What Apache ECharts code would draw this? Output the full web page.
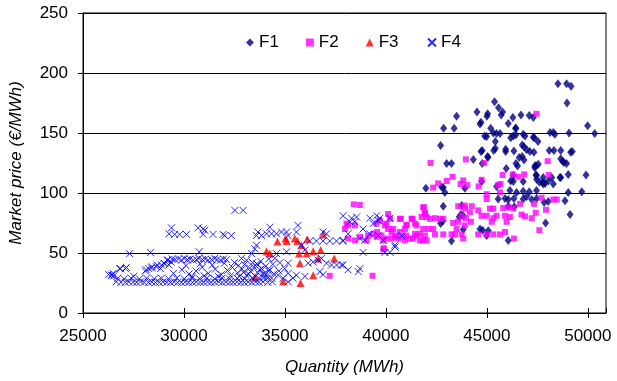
<!DOCTYPE html>
<html>
<head>
<meta charset="utf-8">
<script src="https://cdn.jsdelivr.net/npm/echarts@6/dist/echarts.min.js"></script>
<style>
html,body{margin:0;padding:0;background:#fff;}
#chart{width:617px;height:381px;}
</style>
</head>
<body>
<div id="chart"></div>
<script>
var seriesNames = ['F1', 'F2', 'F3', 'F4'];
var xTicks = [25000, 30000, 35000, 40000, 45000, 50000];
var yTicks = [0, 50, 100, 150, 200, 250];

var f1Data = [
[48520,191],[48950,191],[49170,189],[48970,175],[45380,176],[45580,171],[45780,167.5],[45710,165],[44510,167.5],[43500,164],
[45040,166],[45000,164],[46290,163],[46690,165],[47100,164.5],[47300,163],[44710,159],[44660,157.5],[46060,158],[46420,154],
[42860,154],[43380,154],[45190,154],[46440,154],[49990,156],[50340,149.5],[49070,150],[48130,150.5],[48290,150.5],[48370,149],
[45320,150],[45480,149.5],[45650,149.5],[44890,147.5],[44990,147],[46180,146],[46310,147.5],[46440,148.5],[46800,149],[46890,147.5],
[47350,146],[47530,143],[45420,143],[42710,139.5],[46750,140],[46840,138.5],[44770,135.5],[44710,134.5],[45340,135.5],[45420,137],
[45930,134.5],[45930,136.5],[46340,135],[46970,136],[47130,134.5],[47330,134],[48090,135.5],[48320,135.5],[48660,135.5],[49230,134.5],
[49150,134],[44330,128],[45050,129.5],[46750,130.5],[46600,129.5],[46840,127.5],[48660,128.5],[48750,126.5],[48820,125.5],[48950,124.5],
[43010,124.5],[43250,124.5],[44770,124.5],[47430,123],[47370,121],[46440,124.5],[46520,122.5],[45960,120.5],[47430,115],[47460,111.5],
[47600,109],[47760,109],[47880,108],[48290,107.5],[48660,113],[49030,115.5],[49910,115],[46180,110],[46310,109.5],[46800,109.5],
[41980,104],[42760,105],[42920,100.5],[43910,104],[45480,105.5],[46140,102],[46470,100.5],[46800,101.5],[47100,101],[47460,102],
[49030,100.5],[49700,101],[45560,95],[45900,95.5],[46060,94.5],[46340,95.5],[46800,95],[46970,97],[47220,94.5],[47460,95.5],
[47840,92],[48040,93],[48870,93.5],[42840,89],[43750,89.5],[46060,89],[46360,88.5],[49120,82],[43720,82],[43630,80],
[42810,76.5],[42710,74.5],[47910,75],[44660,70],[44790,69],[43250,60],[46060,60.5],[44990,64.5],[43830,69.5],[42840,104.5],
[43830,81],[45070,68.5],[44740,109.5],[45040,130.5],[47380,122.5],[47550,124],[47460,114.5],[47790,113],[48210,113],[48620,113],
[48040,110],[47790,107.5],[46310,114.5],[47300,146.5]
];

var f2Data = [
[47460,166],[42210,125],[43960,128],[44870,125],[48010,126.5],[48060,115],[43300,113.5],[43010,110],[42590,108],[42340,104.5],
[43830,110.5],[43700,107.5],[44030,106.5],[44740,111],[44590,105.5],[45780,115],[46280,115.5],[46560,113.5],[46850,115.5],[45680,107.5],
[45560,106.5],[44990,99],[44990,95],[45650,100.5],[47710,96],[48290,94.5],[48460,94.5],[46640,91],[47330,91],[41880,88],
[41930,83.5],[42020,80],[42180,78.5],[42430,79],[42680,78.5],[42840,78.5],[43580,89],[43910,89.5],[44250,89],[43910,87],
[44160,84],[43750,81],[43580,76],[43330,75],[44210,76],[43960,79],[44570,85.5],[44740,81],[44990,81],[45150,87],
[45320,87],[45480,81],[45240,76],[45320,79],[45810,87.5],[46060,88],[46310,87],[45900,81],[46140,80],[45980,76],
[46720,82],[46890,80.5],[47220,79],[47420,83.5],[47930,86],[47600,69],[46340,62],[40690,78.5],[41320,78.5],[41020,73.5],
[41440,74.5],[41850,70],[42340,70],[40360,70],[40940,70],[40530,64.5],[40860,63.5],[41190,62],[41520,64.5],[41850,60.5],
[42430,65.5],[42840,65.5],[43250,65.5],[43420,65.5],[43750,65.5],[43830,62],[44570,65.5],[44990,65.5],[45320,65.5],[45650,65.5],
[45900,67.5],[43500,70],[43910,73],[38410,90.5],[38710,90],[37970,70],[38130,73],[38460,73],[38130,62],[38460,60.5],
[38710,63.5],[39040,60.5],[39120,64.5],[39370,66],[39540,63.5],[39780,64.5],[39870,60.5],[40110,82.5],[40200,78.5],[39950,73],
[40110,70],[40280,67.5],[40280,62],[40030,62],[39870,53],[39340,31],[40740,78.5],[41020,73],[41270,78.5],[41520,73],
[41770,80],[41930,82.5],[41850,88],[42100,70],[41930,64.5],[41680,66],[41350,62],[40940,60.5],[40610,62],[41020,64.5],
[41440,66],[40690,67.5],[40450,63.5],[41680,60.5],[42020,60.5],[39570,67.5],[37220,31],[39900,54],[39540,74.5],[39700,77],
[40030,74.5],[38050,74.5]
];

var f3Data = [
[34630,59.5],[35030,62],[35080,60],[35490,62],[35620,60],[36100,61.5],[36890,65.5],[34090,51.5],[34250,49.5],[35700,49.5],
[36070,49.5],[36400,51.5],[36770,52.5],[37440,45.5],[35740,41.5],[36400,31.5],[35770,25],[34910,26.5],[33510,29.5],[35820,56.5],
[36640,45.5]
];

var f4Data = [
[32520,85.5],[32930,85.5],[29380,71],[29260,66],[29540,65.5],[29790,65.5],[30120,65.5],[30700,71],[31030,69],[30950,65.5],
[31440,65.5],[32020,64.5],[32350,64.5],[30950,70],[31940,65.5],[27310,49.5],[28340,50.5],[30750,51],
[26820,37],[27150,38],[26490,33],[26410,31.5],[26270,32],[26440,31.5],[26520,31],[26850,37],[27100,37],[27510,30.5],
[28090,35],[28140,36],[28260,37],[28390,37.5],[28420,38.5],[28640,38.5],[28670,40],[28840,37],[28890,40],[29000,41.5],
[29050,41],[29160,44],[29210,44],[29250,40],[29360,42.5],
[29420,45],[29560,44.5],[29730,45],[29880,44],[30010,45.5],[30170,44.5],[30290,45],[30460,44],[30620,44.5],[30740,45.5],
[30910,44.5],[31060,45],[31190,44],[31370,44.5],[31520,45.5],[31640,44.5],[31810,44],[31960,45],[32110,44.5],
[26650,26],[26880,25.5],[27090,25.5],[27270,26],[27480,25.5],[27660,25.5],[27850,26],[28030,25.5],[28240,25.5],[28410,26],
[28590,25.5],[28780,25.5],[28960,26],[29150,25.5],[29330,25.5],[29520,26],[29690,25.5],[29880,25.5],[30060,26],[30240,25.5],
[30430,25.5],[30610,26],[30800,25.5],[30980,25.5],[31170,26],[31340,25.5],[31530,25.5],[31720,26],[31890,25.5],[32080,26],
[32270,25.5],[32440,25.5],[32630,26],[32810,25.5],[32990,25.5],[33180,26],[33360,25.5],[33550,26],[33720,25.5],[33910,26],
[34150,25.5],[34380,26],
[26720,29],[27030,28.5],[27380,29],[27790,28.5],[28150,29],[28530,28.5],[28880,29],[29240,28.5],[29640,29],[30010,28.5],
[30390,29],[30770,28.5],[31140,29],[31520,28.5],[31880,29],[32260,28.5],[32640,29],[33010,28.5],[33390,29],[33760,28.5],
[34130,29],
[29480,33],[29900,36],[30250,32.5],[30600,35],[30900,38],[31200,33],[31550,36.5],[31850,32],[32150,35.5],[32400,38],
[32650,33.5],[32880,36.5],[33100,31.5],[33300,34.5],[33450,38.5],[33600,41],[33750,36],[33900,32.5],[34050,39],[34200,35],
[30100,39.5],[30800,41],[31400,40],[32000,41.5],[32500,42],[33000,40.5],
[32300,31],[32750,30.5],[33200,32.5],[33550,30.5],[33950,30],[34450,32.5],[34700,35],[34400,40.5],[34750,42],[33250,37.5],
[32950,34],[33650,33.5],[34100,31],[31700,30.5],[31000,31],[30400,30.5],[33800,43],[34200,45],[33400,42],[32700,39.5],
[33590,64.5],[33670,67.5],[33840,64.5],[34090,66],[34250,71.5],[34340,66],[34580,66],[34830,67.5],[35080,67.5],[35160,64.5],
[35570,67.5],[35650,73],[35820,56.5],[35990,52.5],[36230,60],[36560,60],[36890,60],[37220,60],[37550,60],[37870,60],
[36890,67.5],[37060,66],[34580,49.5],[34500,45.5],[35080,51],[36150,41.5],[36400,42.5],[36640,44],[36810,45.5],[37060,41.5],
[37310,40],[37560,40],[37800,40],[36730,34.5],[36890,32],[35990,30.5],[35160,41.5],[34990,37],[35160,33],[34910,29],
[34660,31.5],[34000,33],[33840,37],[33670,40],[34250,36],[34340,29],[35400,29],[35570,31.5],[35160,26],
[32850,45.5],[33100,44],[33350,49.5],[33510,53.5],[33590,56.5],
[37880,81],[38300,79],[38550,80],[38220,76],[38460,76],[38870,70],[39210,79],[39540,81],[39700,79],[40200,79],
[39370,74.5],[39620,77],[38130,66],[37880,60.5],[38710,62],[38960,60.5],[39620,64.5],[39870,60.5],[39210,66],[38870,50.5],
[39950,50.5],[40200,50.5],[40450,55],[40780,64.5],[37880,40],[38130,36],[38710,37],[38630,34.5],[40450,56.5]
];

var chart = echarts.init(document.getElementById('chart'), null, {renderer: 'canvas'});
var FONT = 'Liberation Sans, Arial, sans-serif';
var option = {
  animation: false,
  backgroundColor: '#ffffff',
  textStyle: {fontFamily: FONT},
  grid: {left: 83, right: 11, top: 13, bottom: 67, show: true, borderColor: '#000', borderWidth: 1, backgroundColor: 'transparent'},
  legend: {
    data: seriesNames,
    left: 241, top: 29,
    itemWidth: 8, itemHeight: 8, itemGap: 27,
    textStyle: {fontSize: 17, color: '#000', fontFamily: FONT}
  },
  xAxis: [{
    type: 'value', min: 25000, max: 50900, interval: 5000,
    axisLine: {lineStyle: {color: '#000', width: 1}},
    axisTick: {show: true, length: 5, lineStyle: {color: '#000'}},
    axisLabel: {fontSize: 17, color: '#000', margin: 15, showMaxLabel: false, fontFamily: FONT,
      formatter: function (v) { return xTicks.indexOf(v) >= 0 ? String(v) : ''; }},
    splitLine: {show: false},
    name: 'Quantity (MWh)', nameLocation: 'middle', nameGap: 46,
    nameTextStyle: {fontSize: 17, fontStyle: 'italic', color: '#000', fontFamily: FONT}
  }, {
    type: 'value', min: 25000, max: 50900, interval: 5000, position: 'bottom', offset: 0,
    axisLine: {show: false},
    axisTick: {show: true, inside: true, length: 5, lineStyle: {color: '#000'}},
    axisLabel: {show: false}, splitLine: {show: false}
  }],
  yAxis: {
    type: 'value', min: 0, max: 250, interval: 50,
    axisLine: {show: true, lineStyle: {color: '#000', width: 1}},
    axisTick: {show: true, length: 5, lineStyle: {color: '#000'}},
    axisLabel: {fontSize: 17, color: '#000', margin: 15, fontFamily: FONT,
      formatter: function (v) { return yTicks.indexOf(v) >= 0 ? String(v) : ''; }},
    splitLine: {show: true, lineStyle: {color: '#000', width: 1}},
    name: 'Market price (€/MWh)', nameLocation: 'middle', nameGap: 58,
    nameTextStyle: {fontSize: 17, fontStyle: 'italic', color: '#000', fontFamily: FONT}
  },
  series: [
    {name: 'F1', type: 'scatter', data: f1Data, symbol: 'diamond', symbolSize: [7, 9],
      itemStyle: {color: '#000080'}},
    {name: 'F2', type: 'scatter', data: f2Data, symbol: 'rect', symbolSize: 6,
      itemStyle: {color: '#ff00ff'}},
    {name: 'F3', type: 'scatter', data: f3Data, symbol: 'triangle', symbolSize: [8, 8],
      itemStyle: {color: '#ff0000'}},
    {name: 'F4', type: 'scatter', data: f4Data, symbol: 'path://M0,0L10,10M10,0L0,10', symbolSize: 7,
      itemStyle: {color: 'none', borderColor: '#0000ff', borderWidth: 1, opacity: 0.85}}
  ]
};
chart.setOption(option);
</script>
</body>
</html>
